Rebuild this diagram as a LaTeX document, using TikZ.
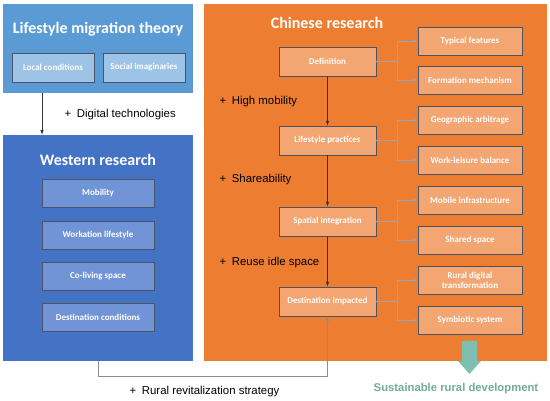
\documentclass[tikz,border=0pt]{standalone}
\usepackage{fontspec}
\setmainfont{Carlito}
\newfontfamily\arialfont{Liberation Sans}
\usepackage{tikz}
\usetikzlibrary{positioning}

\definecolor{lmblue}{HTML}{5B9BD5}
\definecolor{lmsub}{HTML}{9DC3E6}
\definecolor{wrblue}{HTML}{4472C4}
\definecolor{wrsub}{HTML}{7094D6}
\definecolor{cnorange}{HTML}{ED7D31}
\definecolor{cnsub}{HTML}{F3A672}
\definecolor{boxline}{HTML}{4A5466}
\definecolor{branchline}{HTML}{93A7BA}
\definecolor{srgreen}{HTML}{7FBFB1}

\begin{document}
\begin{tikzpicture}[x=1pt, y=-1pt,
  panel/.style={rectangle, inner sep=0pt},
  title/.style={text=white, font=\bfseries\fontsize{16}{18}\selectfont},
  sub/.style={rectangle, draw=boxline, line width=0.9pt, text=white, font=\bfseries\fontsize{9}{10}\selectfont, align=center, inner sep=0pt},
  lmbox/.style={sub, fill=lmsub, minimum width=82pt, minimum height=29pt},
  wrbox/.style={sub, fill=wrsub, minimum width=112pt, minimum height=28pt},
  stagebox/.style={sub, fill=cnsub, minimum width=97pt, minimum height=29pt},
  topicbox/.style={sub, fill=cnsub, minimum width=104pt, minimum height=28pt},
  plus/.style={anchor=west, font=\arialfont\fontsize{11.4}{13}\selectfont},
  mainarrow/.style={->, >=latex, line width=0.6pt, draw=black!80},
  branch/.style={->, >=latex, line width=0.5pt, draw=branchline}]
\useasboundingbox (0,0) rectangle (550,401);

% panels
\node[panel, fill=lmblue, minimum width=190pt, minimum height=89pt] (lm) at (98,48.5) {};
\node[panel, fill=wrblue, minimum width=190pt, minimum height=226pt] (wr) at (98,248) {};
\node[panel, fill=cnorange, minimum width=343pt, minimum height=357pt] (cn) at (375.5,182.5) {};

\node[title] (lmt) at (98,29) {Lifestyle migration theory};
\node[title] (wrt) at (98,160) {Western research};
\node[title] (cnt) at (327,23) {Chinese research};

% lifestyle migration theory
\node[lmbox] (lc) at (53,67.5) {Local conditions};
\node[lmbox] (si) at (144,67.5) {Social imaginaries};

% western research
\node[wrbox] (mo) at (98,193) {Mobility};
\node[wrbox] (wl) at (98,235) {Workation lifestyle};
\node[wrbox] (cl) at (98,276.5) {Co-living space};
\node[wrbox] (dc) at (98,317.5) {Destination conditions};

% chinese research
\node[stagebox] (de) at (327.5,61.5) {Definition};
\node[stagebox] (lp) at (327.5,140.5) {Lifestyle practices};
\node[stagebox] (sp) at (327.5,221.5) {Spatial integration};
\node[stagebox] (di) at (327.5,301.5) {Destination impacted};

\node[topicbox] (tf) at (470,41) {Typical features};
\node[topicbox] (fm) at (470,80) {Formation mechanism};
\node[topicbox] (ga) at (470,120.5) {Geographic arbitrage};
\node[topicbox] (wb) at (470,160) {Work-leisure balance};
\node[topicbox] (mi) at (470,200) {Mobile infrastructure};
\node[topicbox] (ss) at (470,240) {Shared space};
\node[topicbox] (rd) at (470,280.5) {Rural digital\\[0pt]transformation};
\node[topicbox] (sy) at (470,320.5) {Symbiotic system};

% labels
\node[plus] (dt) at (61,115) {+\enspace Digital technologies};
\node[plus] (hm) at (216,102) {+\enspace High mobility};
\node[plus] (sh) at (216,180) {+\enspace Shareability};
\node[plus] (ri) at (216,263) {+\enspace Reuse idle space};
\node[plus] (rr) at (126,392) {+\enspace Rural revitalization strategy};

% arrows
\draw[mainarrow] ([xshift=-56pt]lm.south) -- ([xshift=-56pt]wr.north);
\draw[mainarrow] (de) -- (lp);
\draw[mainarrow] (lp) -- (sp);
\draw[mainarrow] (sp) -- (di);
\draw[mainarrow, draw=black!45] (wr.south) -- ++(0,15) -| (di.south);

\draw[branch] (de.east) -- ++(21,0) |- (tf.west);
\draw[branch] (de.east) -- ++(21,0) |- (fm.west);
\draw[branch] (lp.east) -- ++(21,0) |- (ga.west);
\draw[branch] (lp.east) -- ++(21,0) |- (wb.west);
\draw[branch] (sp.east) -- ++(21,0) |- (mi.west);
\draw[branch] (sp.east) -- ++(21,0) |- (ss.west);
\draw[branch] (di.east) -- ++(21,0) |- (rd.west);
\draw[branch] (di.east) -- ++(21,0) |- (sy.west);

% outcome
\fill[srgreen] (462,341) -- (477,341) -- (477,361) -- (481,361) -- (469.5,374) -- (458,361) -- (462,361) -- cycle;
\node[text=srgreen!90!black, font=\arialfont\bfseries\fontsize{11.3}{13}\selectfont] (sr) at (456,389) {Sustainable rural development};
\end{tikzpicture}
\end{document}
